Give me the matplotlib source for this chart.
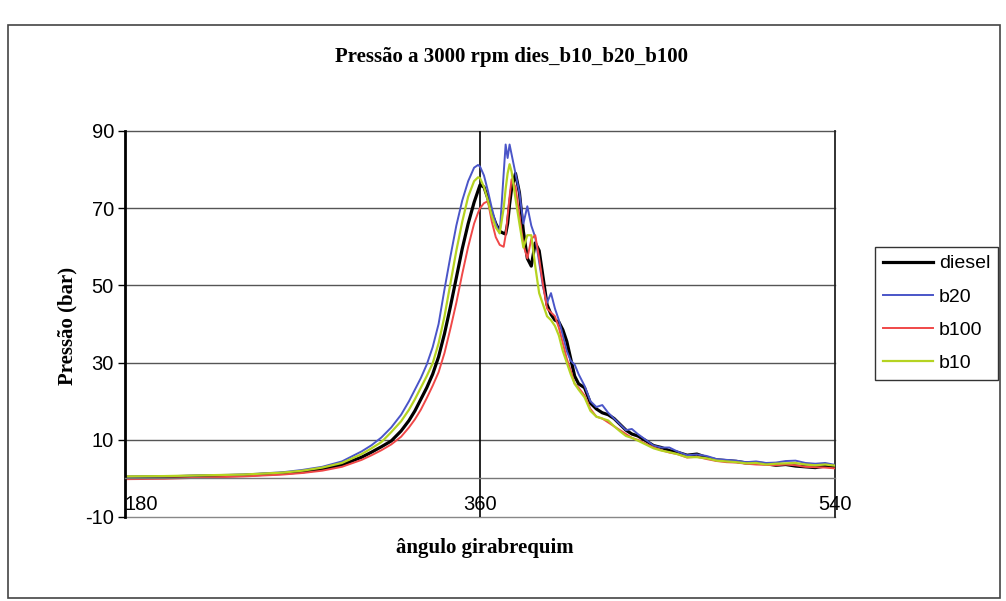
import matplotlib
matplotlib.use("Agg")
import matplotlib.pyplot as plt
from matplotlib.patches import Rectangle

plt.rcParams['font.family'] = 'Liberation Sans'
plt.rcParams['axes.unicode_minus'] = False

# crank angle (deg) and pressure (bar)
angles = [180, 200, 220, 240, 260, 270, 280, 290, 300,
          305, 310, 315, 320, 324, 327, 330, 333, 336, 339, 342, 345, 348, 351, 354, 357, 359,
          360, 362, 364, 366, 368, 370, 372,
          373, 374, 375, 376,
          378, 380, 382, 384, 386, 388, 390, 392, 394, 396, 398, 400, 402, 404, 406, 408, 410,
          413, 416, 419, 422, 425, 428, 431, 434, 437, 440,
          444, 448, 452, 456, 460,
          465, 470, 475, 480, 485, 490, 495, 500, 505, 510, 515, 520, 525, 530, 535, 540]

diesel = [0.3, 0.4, 0.6, 0.8, 1.3, 1.7, 2.4, 3.5, 5.5,
          6.8, 8.2, 9.7, 12.3, 15.0, 17.5, 20.5, 23.5, 27.0, 31.5, 37.5, 44.5, 52.0, 59.5, 66.0, 71.5, 74.5,
          76.0, 75.5, 72.5, 68.7, 66.0, 64.0, 63.5,
          63.3, 66.0, 71.0, 75.0,
          79.0, 74.0, 64.0, 57.0, 55.0, 61.0, 59.0, 52.0, 45.0, 42.5, 41.0, 40.5, 38.5, 35.5, 31.0, 26.5, 24.5,
          23.5, 19.5, 18.0, 17.0, 16.5, 15.5, 14.0, 12.5, 11.5, 11.0,
          9.8, 8.5, 8.0, 7.2, 6.8,
          6.0, 6.3, 5.4, 4.8, 4.6, 4.4, 4.0, 4.0, 3.8, 3.4, 3.6, 3.2, 3.0, 2.8, 3.2, 2.9]

b20 = [0.4, 0.5, 0.8, 1.0, 1.6, 2.2, 3.0, 4.4, 7.0,
       8.6, 10.6, 13.2, 16.5, 20.0, 23.0, 26.0, 29.5, 34.0, 40.0, 49.0, 57.5, 65.5, 72.0, 77.0, 80.5, 81.2,
       80.8, 78.5, 74.5, 70.0, 66.0, 63.5, 79.0,
       86.5, 83.0, 86.5, 84.0,
       79.0, 74.0, 66.0, 70.5, 65.5, 62.5, 56.0, 49.5, 45.5, 48.0, 44.0, 41.0, 37.0, 33.0, 30.5, 29.5, 27.0,
       24.0, 20.0, 18.5, 19.0, 17.0, 15.5, 14.0, 12.5, 12.8, 11.5,
       10.0, 8.5, 8.0, 8.0, 7.0,
       6.0, 6.2, 5.8, 5.0, 4.8, 4.6, 4.2, 4.4, 4.0, 4.1, 4.5, 4.6, 4.0, 3.8, 4.0, 3.5]

b100 = [-0.2, -0.1, 0.2, 0.5, 1.0, 1.4, 2.0, 3.0, 4.8,
        6.0, 7.3, 8.8, 10.8, 13.2, 15.3, 17.8, 20.8, 24.0, 27.5, 32.5, 38.8, 45.5, 53.0, 60.0, 66.0, 68.8,
        70.0, 71.3, 71.8, 66.5, 62.5, 60.5, 60.0,
        63.0, 68.0, 73.0, 77.5,
        75.5, 68.0, 60.5, 57.0, 62.0, 63.0, 57.0, 50.0, 44.0, 43.0, 42.0, 39.0, 35.0, 31.0, 28.0, 24.5, 23.5,
        21.5, 18.0, 16.0, 15.5, 14.5, 13.5, 12.5, 11.5, 10.5, 10.0,
        9.0, 8.0, 7.3, 6.7, 6.3,
        5.4, 5.6, 5.0, 4.5, 4.2, 4.1, 3.8, 3.6, 3.5, 3.4, 3.6, 3.4, 3.0, 2.9, 2.8, 2.6]

b10 = [0.5, 0.6, 0.8, 1.0, 1.5, 2.0, 2.8, 4.0, 6.3,
       7.8, 9.4, 12.0, 14.8, 17.8, 20.5, 23.5, 26.5, 29.8, 35.0, 42.0, 50.5, 59.0, 66.5, 73.0, 77.0, 78.0,
       77.8, 75.5, 72.0, 68.0, 65.0, 63.5, 70.0,
       75.0, 79.0, 81.4, 79.5,
       72.5, 66.0, 59.8, 63.0, 63.0, 55.0, 48.0, 45.0, 42.0, 41.0, 39.5, 37.0, 33.0, 30.0, 27.0, 24.5, 23.0,
       21.0, 17.5, 16.0, 15.5, 15.0, 13.5, 12.2, 11.0, 10.5, 9.8,
       8.8, 7.8, 7.2, 6.8, 6.3,
       5.5, 5.5, 5.2, 4.6, 4.4, 4.2, 3.9, 4.0, 3.6, 3.8, 3.9, 4.0, 3.6, 3.4, 3.6, 3.3]

W, H = 1006, 601
fig = plt.figure(figsize=(W / 100, H / 100), dpi=100)
ax = fig.add_axes([125 / W, 1 - 517 / H, 710 / W, (517 - 131) / H])

# grid and frame, Excel style
for y in [10, 30, 50, 70, 90]:
    ax.axhline(y, color='#555555', lw=1.0, zorder=0, clip_on=False)
ax.axhline(-10, color='#888888', lw=1.0, zorder=0, clip_on=False)
ax.axvline(360, color='black', lw=1.2, zorder=0)
ax.axvline(540, color='#222222', lw=1.3, zorder=0, clip_on=False)

ax.plot(angles, diesel, color='black', lw=2.3, label='diesel')
ax.plot(angles, b20, color='#4a55c8', lw=1.4, label='b20')
ax.plot(angles, b100, color='#f04848', lw=1.4, label='b100')
ax.plot(angles, b10, color='#b5d321', lw=1.6, label='b10')

ax.set_xlim(180, 540)
ax.set_ylim(-10, 90)
ax.set_yticks(range(-10, 91, 20))
ax.set_xticks([180, 360, 540])

for s in ['top', 'right']:
    ax.spines[s].set_visible(False)
ax.spines['left'].set_linewidth(2.0)
ax.spines['left'].set_color('black')
ax.spines['bottom'].set_position(('data', 0))
ax.spines['bottom'].set_color('#777777')
ax.spines['bottom'].set_linewidth(1.0)

ax.tick_params(axis='y', length=5, width=1, pad=3, labelsize=14.5)
ax.tick_params(axis='x', length=0, pad=12, labelsize=14.5)
ax.get_xticklabels()[0].set_ha('left')

fig.text(512 / W, 1 - 57 / H, 'Pressão a 3000 rpm dies_b10_b20_b100',
         ha='center', va='center', family='Liberation Serif', weight='bold', fontsize=15)
fig.text(485 / W, 1 - 548 / H, 'ângulo girabrequim',
         ha='center', va='center', family='Liberation Serif', weight='bold', fontsize=15)
fig.text(67 / W, 1 - 326 / H, 'Pressão (bar)', rotation=90,
         ha='center', va='center', family='Liberation Serif', weight='bold', fontsize=15)

leg = fig.legend(loc='upper left', bbox_to_anchor=(875 / W, 1 - 247 / H), frameon=True,
                 fancybox=False, edgecolor='black', fontsize=14, handlelength=2.6,
                 handletextpad=0.3, labelspacing=0.8, borderpad=0.4, borderaxespad=0)
leg.get_frame().set_linewidth(1.0)

fig.add_artist(Rectangle((8 / W, 1 - 598 / H), (1000 - 8) / W, (598 - 25) / H,
                         transform=fig.transFigure, fill=False, edgecolor='#444444', lw=1.2))

fig.savefig('out.png', dpi=100)
